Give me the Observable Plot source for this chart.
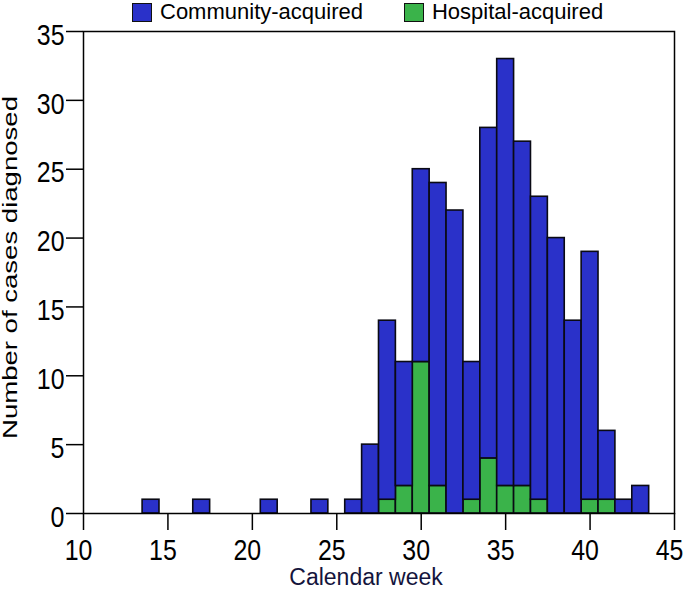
<!DOCTYPE html>
<html>
<head>
<meta charset="utf-8">
<script src="https://cdn.jsdelivr.net/npm/d3@7"></script>
<script src="https://cdn.jsdelivr.net/npm/@observablehq/plot@0.6"></script>
<style>
  body { margin: 0; background: #fff; font-family: "Liberation Sans", Arial, sans-serif; }
  #wrap { position: relative; width: 685px; height: 598px; }
  #legend { position: absolute; left: 132px; top: 1px; height: 22px; display: flex; align-items: center; font-size: 22px; color: #000; z-index: 2; white-space: nowrap; }
  .item { display: flex; align-items: center; }
  .sw { width: 18px; height: 17px; border: 1.2px solid #111; margin-right: 8px; }
  #chart { position: absolute; left: 0; top: 0; }
</style>
</head>
<body>
<div id="wrap">
<div id="chart"></div>
<div id="legend"></div>
</div>
<script>
const weeks      = [14, 17, 21, 24, 26, 27, 28, 29, 30, 31, 32, 33, 34, 35, 36, 37, 38, 39, 40, 41, 42, 43];
const totalCases = [ 1,  1,  1,  1,  1,  5, 14, 11, 25, 24, 22, 11, 28, 33, 27, 23, 20, 14, 19,  6,  1,  2];
const hospital   = [ 0,  0,  0,  0,  0,  0,  1,  2, 11,  2,  0,  1,  4,  2,  2,  1,  0,  0,  1,  1,  0,  0];
const community  = totalCases.map((t, i) => t - hospital[i]);
const seriesNames = ["Community-acquired", "Hospital-acquired"];
const seriesColors = ["#2a31c9", "#3ab34a"];
const xTicks = [10, 15, 20, 25, 30, 35, 40, 45];
const yTicks = [0, 5, 10, 15, 20, 25, 30, 35];
const xTitle = "Calendar week";
const yTitle = "Number of cases diagnosed";

// hospital first so it stacks at the bottom
const rows = [];
weeks.forEach((w, i) => { if (hospital[i] > 0) rows.push({week: w, count: hospital[i], type: seriesNames[1]}); });
weeks.forEach((w, i) => { if (community[i] > 0) rows.push({week: w, count: community[i], type: seriesNames[0]}); });

const legend = document.getElementById("legend");
seriesNames.forEach((n, i) => {
  const it = document.createElement("div"); it.className = "item";
  if (i > 0) it.style.marginLeft = "41px";
  const sw = document.createElement("div"); sw.className = "sw"; sw.style.background = seriesColors[i];
  const tx = document.createElement("span"); tx.textContent = n;
  it.appendChild(sw); it.appendChild(tx); legend.appendChild(it);
});

const chart = Plot.plot({
  width: 685,
  height: 598,
  marginTop: 31,
  marginLeft: 83,
  marginRight: 11,
  marginBottom: 85,
  style: {fontFamily: "'Liberation Sans', Arial, sans-serif", fontSize: "29px", color: "#000", background: "#fff"},
  x: {domain: [10, 45], ticks: xTicks, label: null},
  y: {domain: [0, 35], ticks: yTicks, label: null},
  color: {domain: seriesNames, range: seriesColors},
  marks: [
    Plot.rectY(rows, {x1: d => d.week - 0.5, x2: d => d.week + 0.5, y: "count", fill: "type", stroke: "#0a0a14", strokeWidth: 1.6}),
    Plot.frame({stroke: "#000", strokeWidth: 1.5}),
    Plot.axisX({ticks: xTicks, tickSize: 17, tickPadding: 9, strokeWidth: 1.5, fontSize: 29, label: null}),
    Plot.axisY({ticks: yTicks, tickSize: 17, tickPadding: 2, strokeWidth: 1.5, fontSize: 29, label: null}),
    Plot.text([xTitle], {frameAnchor: "bottom", dy: 71, dx: -13, text: d => d, fontSize: 23, fill: "#14143c"}),
    Plot.text([yTitle], {frameAnchor: "left", textAnchor: "middle", dx: -73, dy: -5, rotate: -90, text: d => d, fontSize: 20, fill: "#000"})
  ]
});
document.getElementById("chart").appendChild(chart);

// condense tick labels to match the reference's narrow lettering
chart.querySelectorAll('g[aria-label="x-axis tick label"] text, g[aria-label="y-axis tick label"] text').forEach(t => {
  const L = t.getComputedTextLength();
  t.setAttribute("textLength", (L * 0.86).toFixed(1));
  t.setAttribute("lengthAdjust", "spacingAndGlyphs");
});
const yLab = chart.querySelector('g[aria-label="y-axis tick label"]');
if (yLab) yLab.setAttribute("transform", (yLab.getAttribute("transform") || "") + " translate(0,4)");
const xLab = chart.querySelector('g[aria-label="x-axis tick label"]');
if (xLab) xLab.setAttribute("transform", (xLab.getAttribute("transform") || "") + " translate(-5,0)");
// stretch the y title along its length to match the reference
chart.querySelectorAll("text").forEach(t => {
  if (t.textContent === yTitle) {
    t.setAttribute("textLength", "343");
    t.setAttribute("lengthAdjust", "spacingAndGlyphs");
  }
});
</script>
</body>
</html>
